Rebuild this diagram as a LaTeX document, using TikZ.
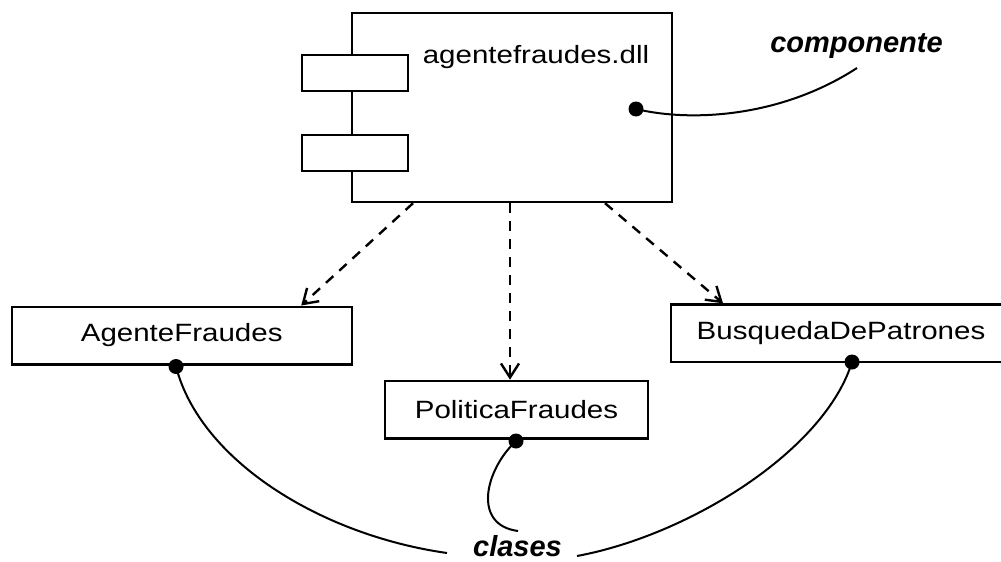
\documentclass[tikz,border=0pt]{standalone}
\usepackage{fontspec}
\setmainfont{Liberation Sans}
\newfontfamily\widesans[FakeStretch=1.18]{Liberation Sans}
\usetikzlibrary{
  arrows.meta,
  positioning,
  calc
}

\begin{document}
\begin{tikzpicture}[
    x=0.5pt, y=-0.5pt,
    font=\widesans\fontsize{12.5}{15}\selectfont,
    line width=1.2pt,
    box/.style={
      rectangle, draw, fill=white,
      minimum height=28.8pt, inner sep=0pt,
      text centered
    },
    tab/.style={
      rectangle, draw, fill=white,
      minimum width=53pt, minimum height=18pt, inner sep=0pt
    },
    dot/.style={circle, fill, inner sep=0pt, minimum size=7.5pt},
    dep/.style={-{Straight Barb[length=7pt,width=9pt]}, dash pattern=on 5pt off 4pt},
    note/.style={font=\fontsize{14.5}{17}\selectfont\bfseries\itshape, inner sep=0pt},
    link/.style={line width=1pt},
  ]
  \useasboundingbox (0,0) rectangle (1001,562);

  %% ── Component ─────────────────────────────────────────────
  \node[box, minimum width=160pt, minimum height=94.5pt] (comp) at (512,107.5) {};
  \node[tab] (tabup)   at (355,73)  {};
  \node[tab] (tabdown) at (355,153) {};
  \node[anchor=base, inner sep=0pt] (compname) at (536,63) {agentefraudes.dll};
  \node[dot] (compdot) at (636,109) {};

  \node[note, anchor=base] (compnote) at (856.5,52) {componente};
  \coordinate (compend) at (857,68);

  %% ── Classes ───────────────────────────────────────────────
  \node[box, minimum width=170pt]   (af) at (181.7,335.5) {AgenteFraudes};
  \node[box, minimum width=131.5pt] (pf) at (516.5,409.7) {PoliticaFraudes};
  \node[box, minimum width=170pt]   (bp) at (841,333.3)   {BusquedaDePatrones};

  \node[dot] (afdot) at (176,366.5) {};
  \node[dot] (pfdot) at (516,441)   {};
  \node[dot] (bpdot) at (852,362)   {};

  \node[note, anchor=base] (clases) at (517.5,556) {clases};
  \coordinate (clsleft)  at (447,553);
  \coordinate (clsmid)   at (518,531);
  \coordinate (clsright) at (577,556);

  %% ── Dependencies ──────────────────────────────────────────
  \draw[dep] ($(comp.south)+(-99,0)$) -- ($(af.north)+(119.5,0)$);
  \draw[dep] ($(comp.south)+(-2,0)$)  -- ($(pf.north)+(-6.5,0)$);
  \draw[dep] ($(comp.south)+(93,0)$)  -- ($(bp.north)+(-118,0)$);

  %% ── Note links ────────────────────────────────────────────
  \draw[link] (compdot.center) .. controls (690,122) and (780,118) .. (compend);
  \draw[link] (afdot.center) .. controls (200,460) and (320,535) .. (clsleft);
  \draw[link] (pfdot.center) .. controls (485,470) and (472,525) .. (clsmid);
  \draw[link] (bpdot.center) .. controls (825,450) and (690,535) .. (clsright);

\end{tikzpicture}
\end{document}
